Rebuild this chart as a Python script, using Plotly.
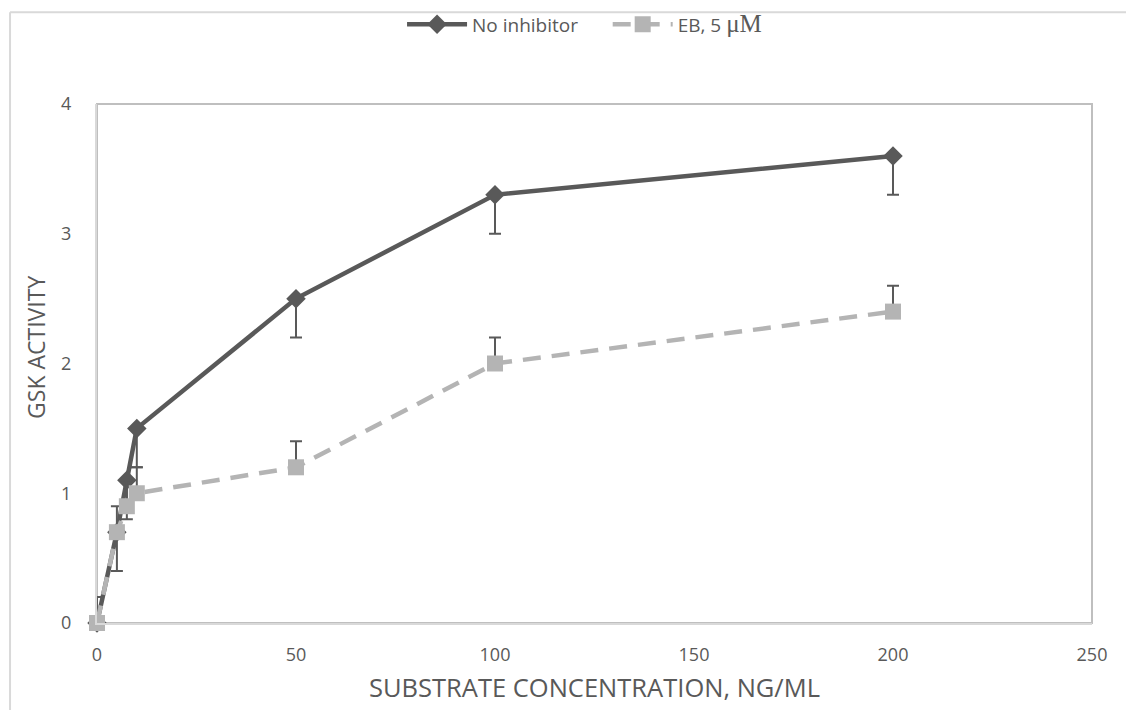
import plotly.graph_objects as go

x_vals = [0, 5, 7.5, 10, 50, 100, 200]
no_inhibitor = [0, 0.7, 1.1, 1.5, 2.5, 3.3, 3.6]
no_inhibitor_err_minus = [0, 0.3, 0.3, 0.3, 0.3, 0.3, 0.3]
eb_5um = [0, 0.7, 0.9, 1.0, 1.2, 2.0, 2.4]
eb_5um_err_plus = [0.2, 0.2, 0.2, 0.2, 0.2, 0.2, 0.2]

dark = "#595959"
light = "#b4b4b4"

fig = go.Figure()
fig.add_trace(go.Scatter(
    x=x_vals, y=no_inhibitor, name="No inhibitor" + "\u00a0" * 5, mode="lines+markers",
    line=dict(color=dark, width=4.5),
    marker=dict(symbol="diamond", size=15, color=dark),
    error_y=dict(type="data", symmetric=False, array=[0]*len(x_vals),
                 arrayminus=no_inhibitor_err_minus, color=dark, thickness=2, width=6),
    cliponaxis=False,
))
fig.add_trace(go.Scatter(
    x=x_vals, y=eb_5um,
    name="EB, 5 <span style=\"font-family:'Liberation Serif', serif; font-size:25px\">μM</span>",
    mode="lines+markers",
    line=dict(color=light, width=4.5, dash="18px,11px"),
    marker=dict(symbol="square", size=16, color=light),
    error_y=dict(type="data", symmetric=False, array=eb_5um_err_plus,
                 arrayminus=[0]*len(x_vals), color=dark, thickness=2, width=6),
    cliponaxis=False,
))

font_fam = "Open Sans, Lato, sans-serif"
fig.update_layout(
    width=1134, height=710,
    margin=dict(l=89, r=50, t=96, b=95),
    paper_bgcolor="white", plot_bgcolor="white",
    font=dict(family=font_fam, color=dark),
    showlegend=True,
    legend=dict(orientation="h", x=0.49, xanchor="center", yref="container", y=0.977, yanchor="middle",
                font=dict(size=19, color=dark), itemwidth=60, bgcolor="rgba(0,0,0,0)"),
    xaxis=dict(range=[0, 250], tickvals=[0, 50, 100, 150, 200, 250],
               showgrid=False, zeroline=False, showline=True, linecolor="#d9d9d9", linewidth=2,
               ticks="", tickfont=dict(size=18, color=dark), ticklabelstandoff=14,
               title=dict(text="SUBSTRATE CONCENTRATION, NG/ML", font=dict(size=25.5, color=dark), standoff=15)),
    yaxis=dict(range=[0, 4], tickvals=[0, 1, 2, 3, 4],
               showgrid=False, zeroline=False, showline=True, linecolor="#d9d9d9", linewidth=2,
               ticks="", tickfont=dict(size=18, color=dark), ticklabelstandoff=20),
    annotations=[
        dict(text="GSK ACTIVITY", xref="paper", yref="paper", x=-0.0613, y=0.53,
             xanchor="center", yanchor="middle", textangle=-90, showarrow=False,
             font=dict(size=23, color=dark)),
    ],
    shapes=[
        dict(type="rect", xref="paper", yref="paper", x0=0, x1=1, y0=0, y1=1,
             line=dict(color="#bfbfbf", width=2), layer="below"),
        dict(type="line", xref="paper", yref="paper", x0=-0.0874, x1=1.06, y0=1.177, y1=1.177,
             line=dict(color="#d9d9d9", width=2)),
        dict(type="line", xref="paper", yref="paper", x0=-0.0874, x1=-0.0874, y0=-0.2, y1=1.177,
             line=dict(color="#d9d9d9", width=2)),
    ],
)

fig.write_html("out.html")
